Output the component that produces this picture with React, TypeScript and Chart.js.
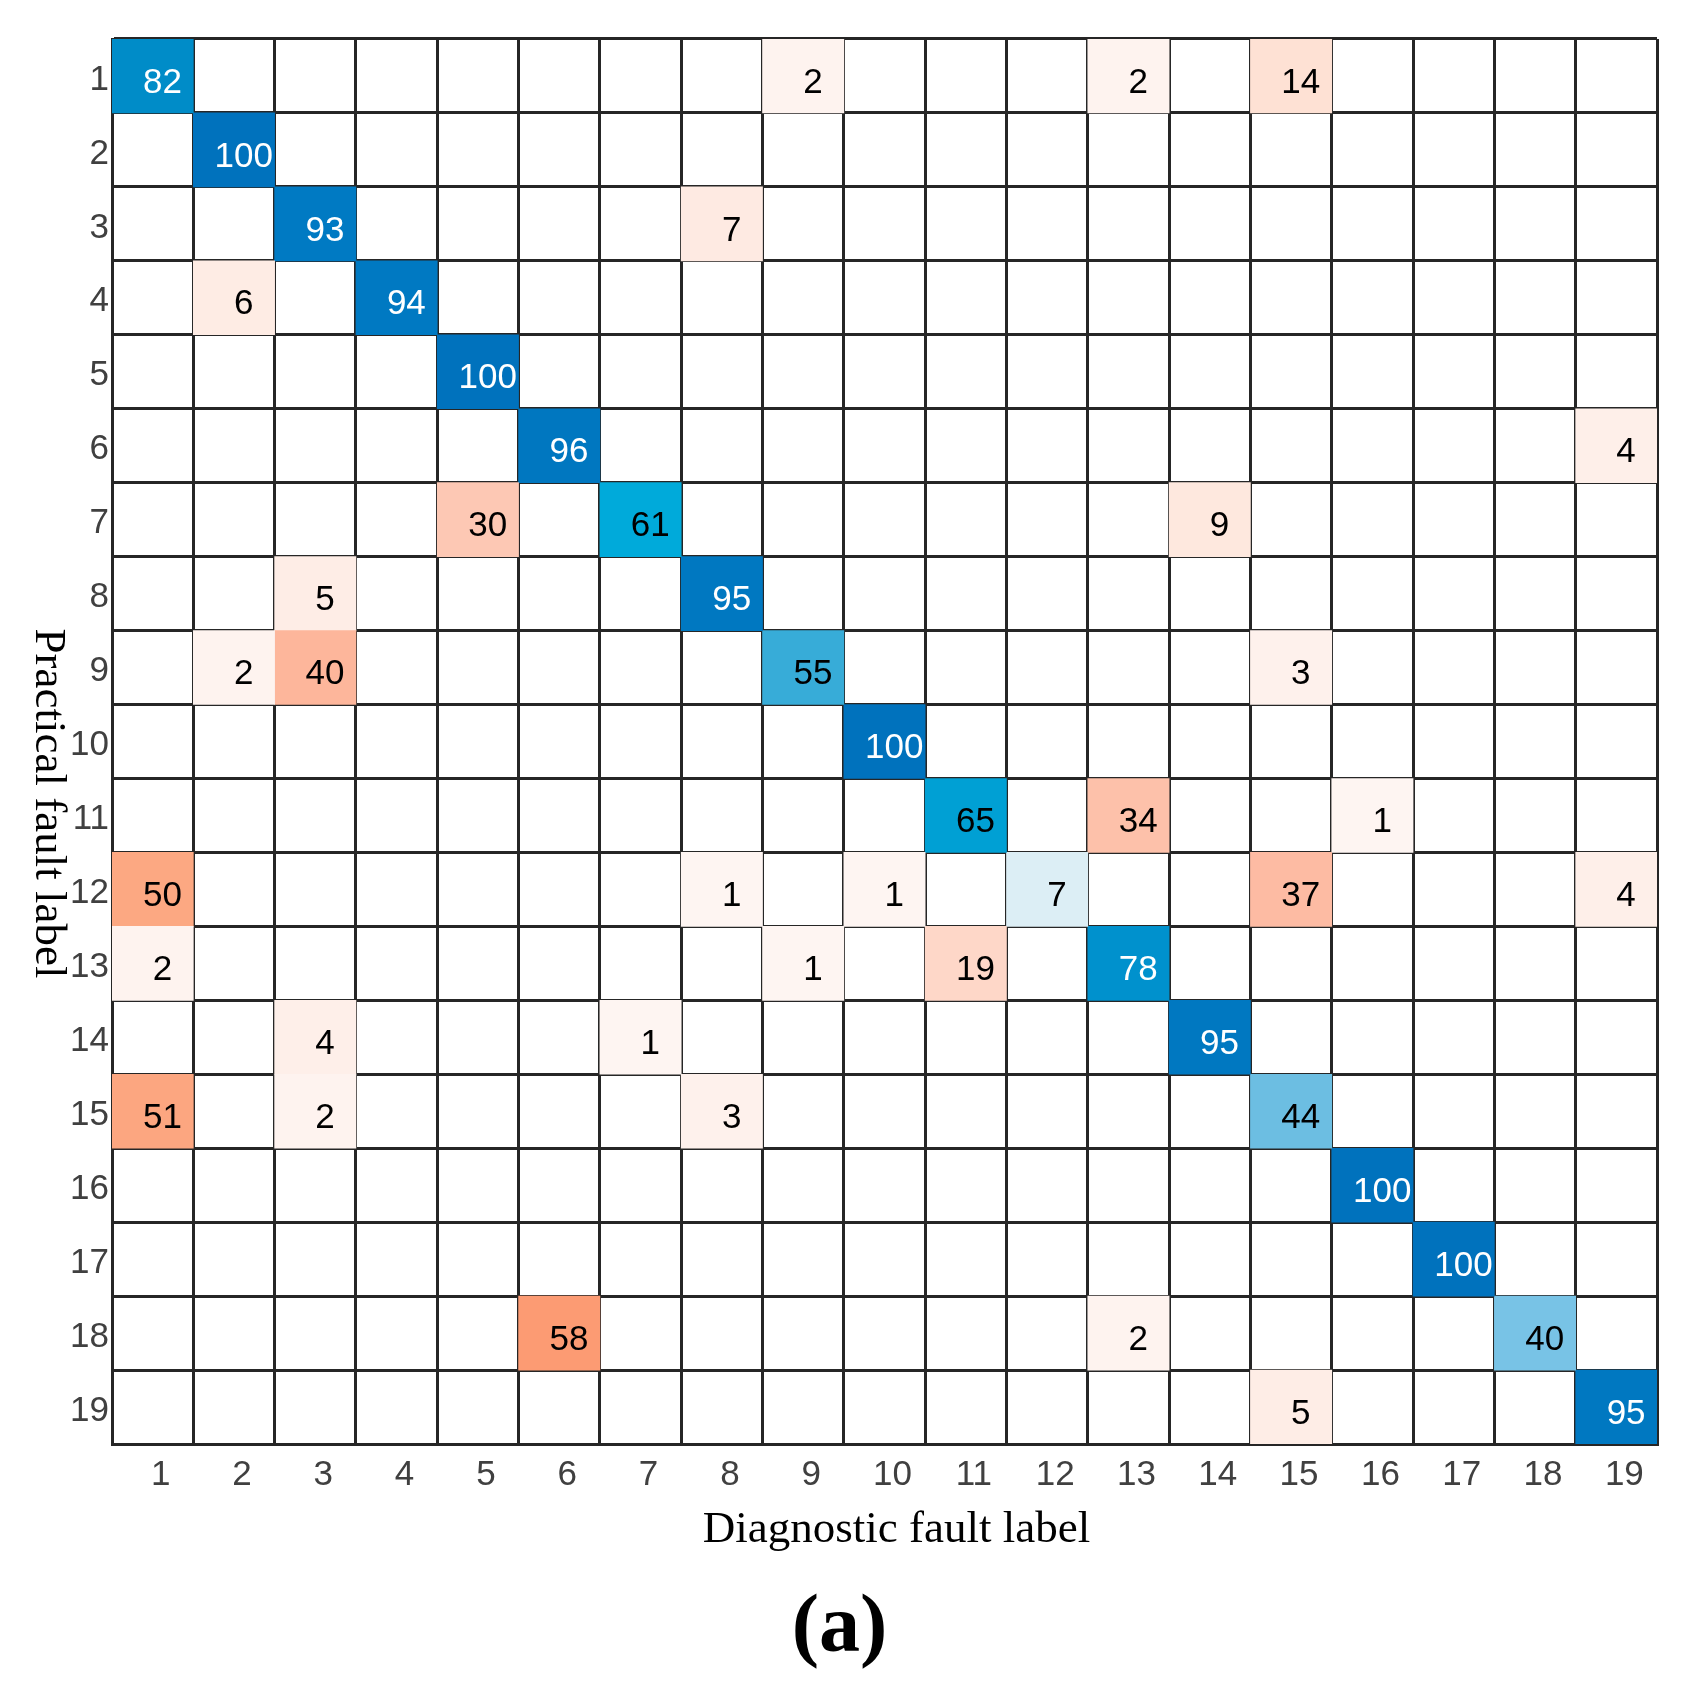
import React, { useEffect, useRef } from "react";
import { Chart, registerables } from "chart.js";

Chart.register(...registerables);

// ---- data ----
const rowLabels = ["1", "2", "3", "4", "5", "6", "7", "8", "9", "10", "11", "12", "13", "14", "15", "16", "17", "18", "19"];
const colLabels = ["1", "2", "3", "4", "5", "6", "7", "8", "9", "10", "11", "12", "13", "14", "15", "16", "17", "18", "19"];
// rows: practical fault label, columns: diagnostic fault label
const confusion: number[][] = [
  [82, 0, 0, 0, 0, 0, 0, 0, 2, 0, 0, 0, 2, 0, 14, 0, 0, 0, 0],
  [0, 100, 0, 0, 0, 0, 0, 0, 0, 0, 0, 0, 0, 0, 0, 0, 0, 0, 0],
  [0, 0, 93, 0, 0, 0, 0, 7, 0, 0, 0, 0, 0, 0, 0, 0, 0, 0, 0],
  [0, 6, 0, 94, 0, 0, 0, 0, 0, 0, 0, 0, 0, 0, 0, 0, 0, 0, 0],
  [0, 0, 0, 0, 100, 0, 0, 0, 0, 0, 0, 0, 0, 0, 0, 0, 0, 0, 0],
  [0, 0, 0, 0, 0, 96, 0, 0, 0, 0, 0, 0, 0, 0, 0, 0, 0, 0, 4],
  [0, 0, 0, 0, 30, 0, 61, 0, 0, 0, 0, 0, 0, 9, 0, 0, 0, 0, 0],
  [0, 0, 5, 0, 0, 0, 0, 95, 0, 0, 0, 0, 0, 0, 0, 0, 0, 0, 0],
  [0, 2, 40, 0, 0, 0, 0, 0, 55, 0, 0, 0, 0, 0, 3, 0, 0, 0, 0],
  [0, 0, 0, 0, 0, 0, 0, 0, 0, 100, 0, 0, 0, 0, 0, 0, 0, 0, 0],
  [0, 0, 0, 0, 0, 0, 0, 0, 0, 0, 65, 0, 34, 0, 0, 1, 0, 0, 0],
  [50, 0, 0, 0, 0, 0, 0, 1, 0, 1, 0, 7, 0, 0, 37, 0, 0, 0, 4],
  [2, 0, 0, 0, 0, 0, 0, 0, 1, 0, 19, 0, 78, 0, 0, 0, 0, 0, 0],
  [0, 0, 4, 0, 0, 0, 1, 0, 0, 0, 0, 0, 0, 95, 0, 0, 0, 0, 0],
  [51, 0, 2, 0, 0, 0, 0, 3, 0, 0, 0, 0, 0, 0, 44, 0, 0, 0, 0],
  [0, 0, 0, 0, 0, 0, 0, 0, 0, 0, 0, 0, 0, 0, 0, 100, 0, 0, 0],
  [0, 0, 0, 0, 0, 0, 0, 0, 0, 0, 0, 0, 0, 0, 0, 0, 100, 0, 0],
  [0, 0, 0, 0, 0, 58, 0, 0, 0, 0, 0, 0, 2, 0, 0, 0, 0, 40, 0],
  [0, 0, 0, 0, 0, 0, 0, 0, 0, 0, 0, 0, 0, 0, 5, 0, 0, 0, 95],
];
const xTitle = "Diagnostic fault label";
const yTitle = "Practical fault label";
const caption = "(a)";

// ---- colour scales (style) ----
type Stop = [number, number, number, number];
const blueStops: Stop[] = [
  [0, 255, 255, 255],
  [7, 220, 238, 245],
  [40, 120, 195, 230],
  [44, 108, 190, 226],
  [55, 55, 172, 216],
  [61, 0, 170, 218],
  [65, 0, 160, 212],
  [78, 0, 145, 205],
  [82, 0, 140, 200],
  [93, 0, 122, 195],
  [100, 0, 114, 189],
];
const redStops: Stop[] = [
  [0, 255, 255, 255],
  [1, 254, 245, 242],
  [5, 254, 237, 230],
  [14, 254, 225, 212],
  [19, 254, 215, 200],
  [30, 253, 200, 180],
  [40, 253, 182, 155],
  [50, 252, 168, 130],
  [58, 252, 155, 115],
  [100, 240, 100, 60],
];
function interp(stops: Stop[], v: number): string {
  for (let i = 1; i < stops.length; i++) {
    const a = stops[i - 1];
    const b = stops[i];
    if (v <= b[0]) {
      const t = (v - a[0]) / (b[0] - a[0] || 1);
      const r = Math.round(a[1] + (b[1] - a[1]) * t);
      const g = Math.round(a[2] + (b[2] - a[2]) * t);
      const bl = Math.round(a[3] + (b[3] - a[3]) * t);
      return `rgb(${r},${g},${bl})`;
    }
  }
  const l = stops[stops.length - 1];
  return `rgb(${l[1]},${l[2]},${l[3]})`;
}
function cellColor(r: number, c: number, v: number): string {
  return r === c ? interp(blueStops, v) : interp(redStops, v);
}

const GRID = "#262626";
const TICK = "#404040";
const SANS = '"Liberation Sans", Arial, sans-serif';
const SERIF = '"Liberation Serif", "Times New Roman", serif';

const valuePlugin = {
  id: "cellValues",
  afterDatasetsDraw(chart: any) {
    const ctx = chart.ctx as CanvasRenderingContext2D;
    ctx.save();
    ctx.font = `35px ${SANS}`;
    ctx.textAlign = "center";
    ctx.textBaseline = "middle";
    chart.data.datasets.forEach((_ds: any, ci: number) => {
      const meta = chart.getDatasetMeta(ci);
      meta.data.forEach((el: any, ri: number) => {
        const v = confusion[ri][ci];
        if (!v) return;
        const p = el.getProps(["x", "y", "base"], true);
        const w = Math.abs(p.x - p.base);
        const cx = (p.x + p.base) / 2 + w * 0.12;
        ctx.fillStyle = ri === ci && v >= 70 ? "#ffffff" : "#000000";
        ctx.fillText(String(v), cx, p.y + 7);
      });
    });
    ctx.restore();
  },
};

const titlePlugin = {
  id: "titles",
  afterDraw(chart: any) {
    const ctx = chart.ctx as CanvasRenderingContext2D;
    const a = chart.chartArea;
    ctx.save();
    ctx.fillStyle = "#000000";
    // x title
    ctx.font = `45px ${SERIF}`;
    ctx.textAlign = "center";
    ctx.textBaseline = "alphabetic";
    ctx.fillText(xTitle, (a.left + a.right) / 2 + 12, a.bottom + 98);
    // caption
    ctx.font = `bold 82px ${SERIF}`;
    ctx.fillText(caption, (a.left + a.right) / 2 - 45, a.bottom + 207);
    // y title (rotated clockwise)
    ctx.font = `45px ${SERIF}`;
    ctx.translate(40, (a.top + a.bottom) / 2 + 62);
    ctx.rotate(Math.PI / 2);
    ctx.textBaseline = "middle";
    ctx.fillText(yTitle, 0, 0);
    ctx.restore();
  },
};

export default function App() {
  const ref = useRef<HTMLCanvasElement | null>(null);
  useEffect(() => {
    if (!ref.current) return;
    const datasets = colLabels.map((_c, ci) => ({
      label: colLabels[ci],
      xAxisID: "xv",
      yAxisID: "y",
      data: rowLabels.map((_r, ri) => (confusion[ri][ci] > 0 ? [ci + 0.5, ci + 1.5] : null)),
      backgroundColor: rowLabels.map((_r, ri) => cellColor(ri, ci, confusion[ri][ci])),
      borderWidth: 0,
      barPercentage: 1,
      categoryPercentage: 1,
      grouped: false,
    }));
    const chart = new Chart(ref.current, {
      type: "bar",
      data: { labels: rowLabels, datasets: datasets as any },
      options: {
        indexAxis: "y",
        animation: false,
        responsive: false,
        layout: { padding: { top: 31, right: 30, left: 0, bottom: 0 } },
        plugins: { legend: { display: false }, tooltip: { enabled: false }, title: { display: false } },
        scales: {
          xv: {
            type: "linear",
            axis: "x",
            min: 0.5,
            max: 19.5,
            display: false,
          },
          x: {
            type: "category",
            labels: colLabels,
            position: "bottom",
            offset: true,
            z: 1,
            grid: { offset: true, color: GRID, lineWidth: 3, drawTicks: false },
            border: { display: true, color: GRID, width: 3 },
            ticks: { color: TICK, font: { family: SANS, size: 35 }, padding: 10, labelOffset: 8, maxRotation: 0, autoSkip: false },
            afterFit: (s: any) => {
              s.height = 236;
            },
          },
          y: {
            type: "category",
            position: "left",
            offset: true,
            z: 1,
            grid: { offset: true, color: GRID, lineWidth: 3, drawTicks: false },
            border: { display: true, color: GRID, width: 3 },
            ticks: { color: TICK, font: { family: SANS, size: 35 }, padding: 3, labelOffset: 4, autoSkip: false },
            afterFit: (s: any) => {
              s.width = 104;
            },
          },
        } as any,
      },
      plugins: [valuePlugin, titlePlugin],
    });
    return () => chart.destroy();
  }, []);
  return (
    <div style={{ width: 1679, height: 1672 }}>
      <canvas ref={ref} width={1679} height={1672} style={{ display: "block" }} />
    </div>
  );
}
